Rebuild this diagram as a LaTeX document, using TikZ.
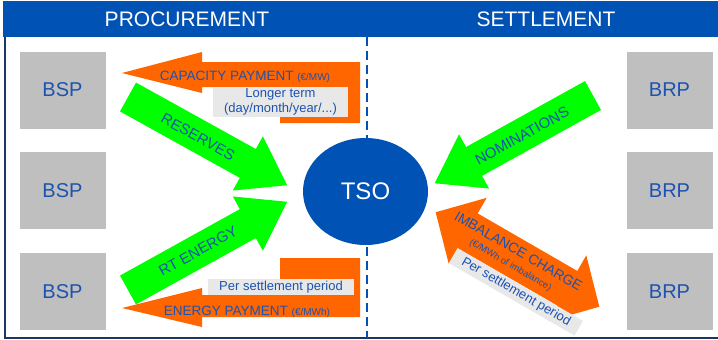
\documentclass[tikz,border=0pt]{standalone}
\usepackage{fontspec}
\setmainfont{Liberation Sans}
\usetikzlibrary{shapes.geometric}

\definecolor{hdrblue}{RGB}{0,82,180}
\definecolor{txtblue}{RGB}{28,82,176}
\definecolor{boxgray}{RGB}{191,191,191}
\definecolor{lblgray}{RGB}{232,232,232}
\definecolor{arrgreen}{RGB}{0,255,0}
\definecolor{arrorange}{RGB}{255,102,0}
\definecolor{framenavy}{RGB}{25,55,95}

\tikzset{
  header/.style={text=white, font=\fontsize{21}{25}\selectfont},
  party/.style={fill=boxgray, minimum width=86pt, minimum height=77pt,
    inner sep=0pt, text=txtblue, font=\fontsize{20}{24}\selectfont},
  flowtext/.style={text=txtblue, inner sep=0pt, font=\fontsize{15}{18}\selectfont},
  note/.style={fill=lblgray, text=txtblue, inner sep=0pt, align=center,
    font=\fontsize{13}{14.5}\selectfont},
}

\begin{document}
\begin{tikzpicture}[x=1pt,y=-1pt]
\useasboundingbox (0,0) rectangle (718,340);

% title band
\fill[hdrblue] (3,1) rectangle (718,37);
\node[header] (proc) at (187,19) {PROCUREMENT};
\node[header] (sett) at (546,19) {SETTLEMENT};

% frame and divider
\draw[framenavy, line width=2pt] (5,37) -- (5,338) -- (718,338);
\coordinate (divtop) at (367,37);
\coordinate (divbot) at (367,338);
\draw[hdrblue, line width=2.5pt, dash pattern=on 9pt off 5pt] (divtop) -- (divbot);

% market parties
\node[party] (bsp1) at (62.5,90) {BSP};
\node[party] (bsp2) at (62.5,190.5) {BSP};
\node[party] (bsp3) at (62.5,291.5) {BSP};
\node[party] (brp1) at (669.5,90) {BRP};
\node[party] (brp2) at (669.5,190.5) {BRP};
\node[party] (brp3) at (669.5,291.5) {BRP};

% payments back to the BSPs
\fill[arrorange] (122,73) -- (202,52) -- (202,62) -- (360,62) -- (360,123)
  -- (280,123) -- (280,87) -- (202,87) -- (202,93) -- cycle;
\fill[arrorange] (122,308) -- (202,288) -- (202,295) -- (280,295) -- (280,258)
  -- (360,258) -- (360,317) -- (202,317) -- (202,327) -- cycle;
\node[note, minimum width=135pt, minimum height=30pt] (longterm) at (280.5,102)
  {Longer term\\(day/month/year/...)};
\node[note, minimum width=146pt, minimum height=16pt] (perper) at (281,287)
  {Per settlement period};
\node[anchor=base, text=txtblue, inner sep=0pt] (cappay) at (245,80)
  {\fontsize{13.5}{16}\selectfont CAPACITY PAYMENT {\fontsize{10}{12}\selectfont(€/MW)}};
\node[anchor=base, text=txtblue, inner sep=0pt] (enpay) at (247,315)
  {\fontsize{13.5}{16}\selectfont ENERGY PAYMENT {\fontsize{10}{12}\selectfont(€/MWh)}};

% reserves and energy into the TSO
\begin{scope}[shift={(128,97)}, rotate=-29]
  \fill[arrgreen] (0,-16.5) -- (137,-16.5) -- (137,-31) -- (182,0)
    -- (137,31) -- (137,16.5) -- (0,16.5) -- cycle;
\end{scope}
\begin{scope}[shift={(128,290)}, rotate=29]
  \fill[arrgreen] (0,-16.5) -- (137,-16.5) -- (137,-31) -- (182,0)
    -- (137,31) -- (137,16.5) -- (0,16.5) -- cycle;
\end{scope}
\begin{scope}[shift={(593,95.5)}, rotate=209]
  \fill[arrgreen] (0,-16.5) -- (136,-16.5) -- (136,-31) -- (181,0)
    -- (136,31) -- (136,16.5) -- (0,16.5) -- cycle;
\end{scope}
\node[flowtext, rotate=-29] (res) at (198,137) {RESERVES};
\node[flowtext, rotate=29] (rte) at (198,251) {RT ENERGY};
\node[flowtext, rotate=29] (nom) at (522,136) {NOMINATIONS};

% imbalance settlement
\begin{scope}[shift={(517.5,259.5)}, rotate=-30]
  \fill[arrorange] (-94.5,0) -- (-57.5,-38) -- (-57.5,-20) -- (57.5,-20)
    -- (57.5,-38) -- (94.5,0) -- (57.5,38) -- (57.5,20) -- (-57.5,20)
    -- (-57.5,38) -- cycle;
\end{scope}
\node[note, rotate=-30, minimum width=145pt, minimum height=17pt] (perper2)
  at (516,292) {Per settlement period};
\node[flowtext, rotate=-30, align=center, font=\fontsize{14}{15}\selectfont] (imb)
  at (514.5,258)
  {IMBALANCE CHARGE\\[-1pt]{\fontsize{9.5}{11}\selectfont(€/MWh of imbalance)}};

% system operator
\node[ellipse, fill=hdrblue, minimum width=125pt, minimum height=107pt,
  text=white, font=\fontsize{24}{28}\selectfont] (tso) at (365.5,191.5) {TSO};
\end{tikzpicture}
\end{document}
